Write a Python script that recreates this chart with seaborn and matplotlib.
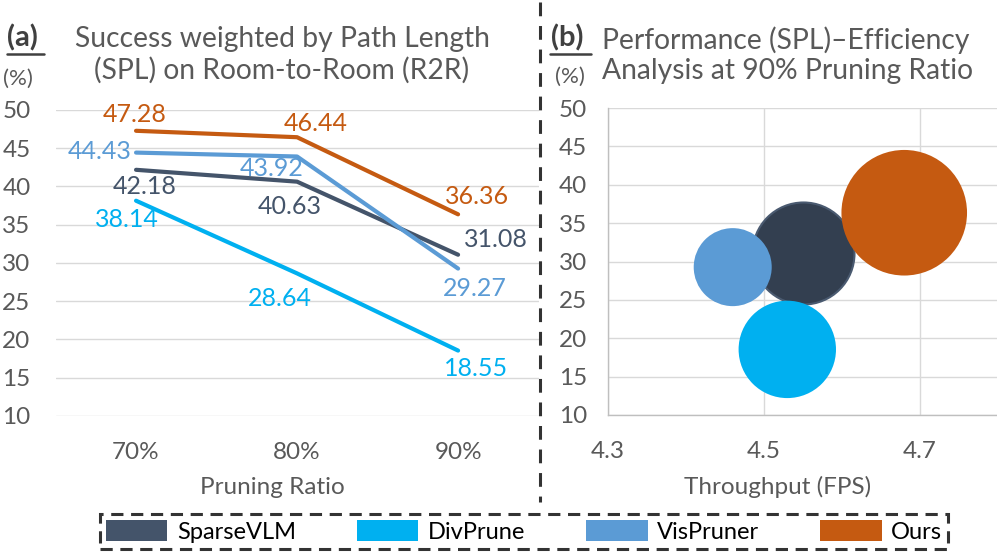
import pandas as pd
import matplotlib
matplotlib.use('Agg')
import matplotlib.pyplot as plt
import seaborn as sns
from matplotlib.lines import Line2D
from matplotlib.patches import Patch

# ---- data ----
methods = ['SparseVLM', 'DivPrune', 'VisPruner', 'Ours']
colors = ['#44546A', '#00B0F0', '#5B9BD5', '#C55A11']
ratios = ['70%', '80%', '90%']
spl_sparsevlm = [42.18, 40.63, 31.08]
spl_divprune = [38.14, 28.64, 18.55]
spl_vispruner = [44.43, 43.92, 29.27]
spl_ours = [47.28, 46.44, 36.36]

# (b) 90% pruning ratio
fps_90 = [4.55, 4.53, 4.46, 4.68]
spl_90 = [31.08, 18.55, 29.27, 36.36]
bubble_size = [2.60, 2.37, 1.52, 3.94]

sns.set_theme(style='white')
plt.rcParams['font.family'] = ['Lato', 'DejaVu Sans']
GRAY = '#595959'
GRID = '#D9D9D9'
TICK_FS = 17.5

fig = plt.figure(figsize=(9.97, 5.58), dpi=100)

# -------------------------------
# (a) line chart
# -------------------------------
ax1 = fig.add_axes([0.0557, 0.2545, 0.4845, 0.5484])
spl_all = [spl_sparsevlm, spl_divprune, spl_vispruner, spl_ours]
df_line = pd.DataFrame({
    'ratio': ratios * 4,
    'spl': sum(spl_all, []),
    'method': [m for m in methods for _ in ratios],
})
sns.lineplot(data=df_line, x='ratio', y='spl', hue='method', hue_order=methods,
             palette=dict(zip(methods, colors)), linewidth=3, legend=False, ax=ax1)
ax1.set_xlim(-0.5, 2.5)
ax1.set_ylim(10, 50)
ax1.set_yticks(range(10, 51, 5))
ax1.grid(axis='y', color=GRID, linewidth=1)
ax1.grid(axis='x', visible=False)
for s in ax1.spines.values():
    s.set_visible(False)
ax1.tick_params(axis='both', length=0, labelsize=TICK_FS, colors=GRAY)
ax1.tick_params(axis='y', pad=18)
ax1.tick_params(axis='x', pad=19)
ax1.set_xlabel('Pruning Ratio', fontsize=TICK_FS, color=GRAY)
ax1.set_ylabel('')
ax1.xaxis.set_label_coords(0.448, -0.2)

# data labels (offsets in pixels)
offsets = {
    'SparseVLM': [(9, -17), (-7, -25), (38, 15)],
    'DivPrune': [(-9, -19), (-17, -25), (18, -18)],
    'VisPruner': [(-36, 1), (-25, -12), (17, -20)],
    'Ours': [(-1, 16), (19, 14), (19, 18)],
}
for m, c, vals in zip(methods, colors, spl_all):
    for i, v in enumerate(vals):
        ax1.annotate(f'{v:.2f}', (i, v), xytext=offsets[m][i], textcoords='offset pixels',
                     ha='center', va='center', fontsize=18, color=c)

# -------------------------------
# (b) bubble chart
# -------------------------------
ax2 = fig.add_axes([0.6098, 0.2563, 0.391, 0.550])
for m, c, x, y, sz in zip(methods, colors, fps_90, spl_90, bubble_size):
    ec = '#4A5A70' if m == 'SparseVLM' else 'none'
    fc = '#333F50' if m == 'SparseVLM' else c
    sns.scatterplot(x=[x], y=[y], color=fc, s=sz * 2075, edgecolor=ec,
                    linewidth=1.5, alpha=1, ax=ax2, zorder=3)
ax2.set_xlim(4.3, 4.8)
ax2.set_ylim(10, 50)
ax2.set_xticks([4.3, 4.5, 4.7])
ax2.set_xticklabels(['4.3', '4.5', '4.7'])
ax2.set_yticks(range(10, 51, 5))
ax2.grid(True, color=GRID, linewidth=1)
for s in ['top', 'right']:
    ax2.spines[s].set_visible(False)
for s in ['left', 'bottom']:
    ax2.spines[s].set_color('#BFBFBF')
    ax2.spines[s].set_linewidth(1)
ax2.tick_params(axis='y', length=6, width=1, labelsize=TICK_FS, colors=GRAY, pad=9)
ax2.tick_params(axis='y', color='#BFBFBF')
ax2.tick_params(axis='x', length=0, labelsize=TICK_FS, colors=GRAY, pad=19)
ax2.set_xlabel('Throughput (FPS)', fontsize=TICK_FS, color=GRAY)
ax2.set_ylabel('')
ax2.xaxis.set_label_coords(0.436, -0.2)

# -------------------------------
# titles and decorations
# -------------------------------
fig.text(7 / 997, 1 - 38 / 558, '(a)', fontsize=21, fontweight='bold', color='#404040',
         ha='left', va='center')
fig.add_artist(Line2D([7 / 997, 44 / 997], [1 - 54 / 558, 1 - 54 / 558], color='#404040', lw=1.8))
fig.text(282 / 997, 1 - 55 / 558, 'Success weighted by Path Length\n(SPL) on Room-to-Room (R2R)',
         fontsize=20.3, color=GRAY, ha='center', va='center', linespacing=1.2)
fig.text(18 / 997, 1 - 79 / 558, '(%)', fontsize=16, color=GRAY, ha='center', va='center')

fig.text(551 / 997, 1 - 38 / 558, '(b)', fontsize=21, fontweight='bold', color='#404040',
         ha='left', va='center')
fig.add_artist(Line2D([550 / 997, 591 / 997], [1 - 54 / 558, 1 - 54 / 558], color='#404040', lw=1.8))
fig.text(602 / 997, 1 - 55 / 558, 'Performance (SPL)\u2013Efficiency\nAnalysis at 90% Pruning Ratio',
         fontsize=20.3, color=GRAY, ha='left', va='center', linespacing=1.2)
fig.text(570 / 997, 1 - 77 / 558, '(%)', fontsize=16, color=GRAY, ha='center', va='center')

# dashed separator
fig.add_artist(Line2D([540 / 997, 540 / 997], [1 - 2 / 558, 1 - 502 / 558], color='#333333',
                      lw=2.2, linestyle=(0, (4.5, 3.2))))

# legend
handles = [Patch(facecolor=c, edgecolor='none', label=m) for m, c in zip(methods, colors)]
leg = fig.legend(handles=handles, loc='center', ncol=4, mode='expand',
                 bbox_to_anchor=(100 / 997, 1 - 550 / 558, 848 / 997, 37 / 558),
                 fontsize=17, frameon=True, fancybox=False, borderaxespad=0, borderpad=0.25,
                 handlelength=2.6, handleheight=1.0, handletextpad=0.4, columnspacing=2.0)
frame = leg.get_frame()
frame.set_edgecolor('black')
frame.set_linewidth(2.2)
frame.set_linestyle((0, (4, 2.5)))
for t in leg.get_texts():
    t.set_color('black')

fig.savefig('out.png', dpi=100)
